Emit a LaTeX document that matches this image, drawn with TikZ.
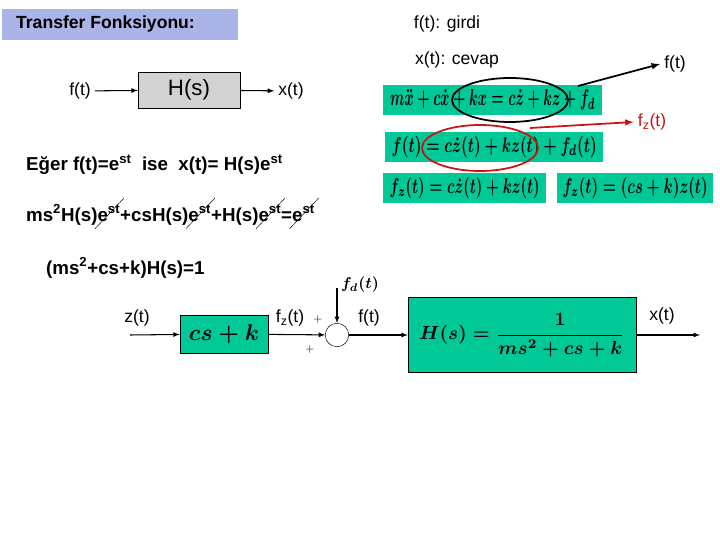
\documentclass[tikz,border=0pt]{standalone}
\usepackage{fontspec}
\usepackage{amsmath}
\setmainfont{Liberation Sans}
\usetikzlibrary{arrows}
\usetikzlibrary{positioning}
\definecolor{eqgreen}{RGB}{0,200,150}
\definecolor{titleblue}{RGB}{170,180,230}
\definecolor{boxgray}{RGB}{210,210,210}
\definecolor{darkred}{RGB}{200,20,20}
\newdimen\pxu \pxu=0.03cm
\tikzset{eqbox/.style = {fill = eqgreen, inner sep = 0, anchor = west, minimum height = 30\pxu},
  lbl/.style = {font = \fontsize{15}{17}\selectfont},
  txt/.style = {font = \bfseries\fontsize{16}{18}\selectfont, anchor = west},
  sumpt/.style = {draw, circle, inner sep = 0, minimum size = 20},
  sig/.style = {line width = 0.9pt, -latex}}
\newcommand\ecut{\tikz[baseline, x=1pt, y=1pt]{\node [inner sep = 0, anchor = base] (e) {e\textsuperscript{st}};
    \draw [thin, overlay] ([shift={(-2pt,-6pt)}]e.south west) -- ([shift={(3pt,6pt)}]e.north east);}}
\newcommand\eqfit[2]{\resizebox{#1\pxu}{16\pxu}{\boldmath$#2$}}
\begin{document}
\begin{tikzpicture}[x=0.03cm, y=-0.03cm]
      \useasboundingbox (0, 0) rectangle (720, 540);
      \fill [titleblue] (2, 9) rectangle (238, 40);
      \node [font = \bfseries\fontsize{15}{17}\selectfont, anchor = west] (title) at (12, 24) {Transfer Fonksiyonu:};
      \node [lbl] (girdi) at (447, 24) {f(t): girdi};
      \node [lbl] (cevap) at (457, 60) {x(t): cevap};

      % ilk blok
      \node [lbl] (fin) at (80, 91) {f(t)};
      \node [draw, fill = boxgray, minimum width = 102\pxu, minimum height = 36\pxu, font = \fontsize{19}{21}\selectfont] (hs) at (189, 90) {H(s)};
      \node [lbl] (xout) at (291, 91) {x(t)};
      \draw [sig] (fin) -- (hs);
      \draw [sig] (hs) -- (xout);

      % denklemler
      \node [eqbox, minimum width = 219\pxu] (eq1) at (383, 100) {\eqfit{205}{m\ddot{x} + c\dot{x} + kx = c\dot{z} + kz + f_d}};
      \node [eqbox, minimum width = 218\pxu] (eq2) at (385, 147) {\eqfit{205}{f(t) = c\dot{z}(t) + kz(t) + f_d(t)}};
      \node [eqbox, minimum width = 163\pxu] (eq3) at (383, 188) {\eqfit{150}{f_z(t) = c\dot{z}(t) + kz(t)}};
      \node [eqbox, minimum width = 156\pxu] (eq4) at (557, 188) {\eqfit{145}{f_z(t) = (cs + k)z(t)}};

      \draw [line width = 1.5pt] (510, 100) ellipse [x radius = 58, y radius = 22];
      \node [lbl] (fright) at (675, 64) {f(t)};
      \coordinate (ftail) at (578, 86);
      \draw [line width = 1.5pt, -latex] (ftail) -- (fright.west);
      \draw [line width = 1.5pt, darkred] (480, 148) ellipse [x radius = 58, y radius = 23];
      \node [lbl, text = darkred] (fzright) at (652, 122) {f\textsubscript{z}(t)};
      \coordinate (fztail) at (530, 128);
      \draw [line width = 1.5pt, darkred, -latex] (fztail) -- (fzright.west);

      % metin
      \node [txt] (line1) at (22, 165) {Eğer f(t)=e\textsuperscript{st}\ \ ise\ \ x(t)= H(s)e\textsuperscript{st}};
      \node [txt] (line2) at (22, 215) {ms\textsuperscript{2}H(s)\ecut+csH(s)\ecut+H(s)\ecut=\ecut};
      \node [txt] (line3) at (42, 268) {(ms\textsuperscript{2}+cs+k)H(s)=1};

      % blok diyagram
      \node [lbl] (zin) at (137, 318) {z(t)};
      \coordinate (zstart) at (130, 335);
      \node [draw, fill = eqgreen, minimum width = 88\pxu, minimum height = 38\pxu, inner sep = 0] (csk) at (224, 334) {\resizebox{70\pxu}{!}{\boldmath$cs + k$}};
      \node (fd) at (360, 285) {\resizebox{38\pxu}{!}{\boldmath$f_d(t)$}};
      \node [sumpt] (sum) at (337, 335) {};
      \coordinate (fdtop) at (337, 288);
      \node [draw, fill = eqgreen, minimum width = 228\pxu, minimum height = 75\pxu, inner sep = 0] (hbox) at (522, 335) {\resizebox{205\pxu}{!}{\boldmath$H(s) = \dfrac{1}{ms^2 + cs + k}$}};
      \coordinate (xend) at (700, 335);
      \node [lbl] (fzl) at (290, 318) {f\textsubscript{z}(t)};
      \node (p1) at (318, 320) {$+$};
      \node (p2) at (310, 350) {$+$};
      \node [lbl] (fl) at (369, 318) {f(t)};
      \node [lbl] (xl) at (662, 316) {x(t)};
      \draw [sig] (zstart) -- (csk);
      \draw [sig] (csk) -- (sum);
      \draw [sig] (fdtop) -- (sum);
      \draw [sig] (sum) -- (hbox);
      \draw [sig] (hbox) -- (xend);
    \end{tikzpicture}
\end{document}
